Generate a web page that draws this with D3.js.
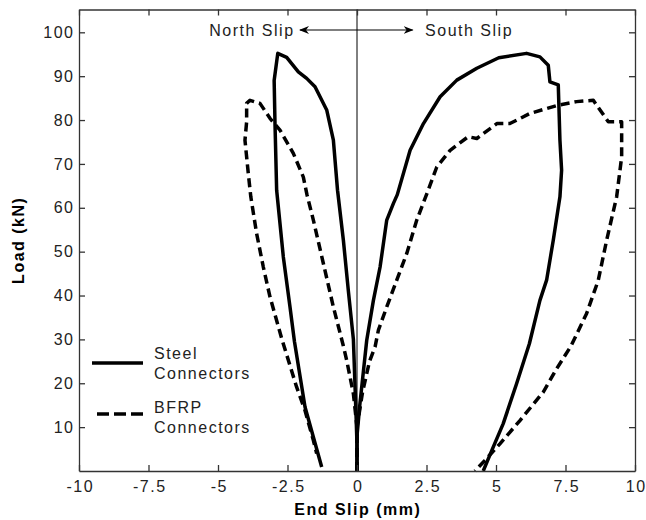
<!DOCTYPE html>
<html>
<head>
<meta charset="utf-8">
<script src="https://cdn.jsdelivr.net/npm/d3@7"></script>
<style>
  html, body { margin: 0; padding: 0; background: #fff; }
  svg { display: block; font-family: "Liberation Sans", Arial, sans-serif; }
</style>
</head>
<body>
<svg id="chart" width="646" height="520"></svg>
<script>
// ---- Data (End slip in mm, Load in kN) ----
const xTicks = [-10, -7.5, -5, -2.5, 0, 2.5, 5, 7.5, 10];
const xTickLabels = ["-10", "-7.5", "-5", "-2.5", "0", "2.5", "5", "7.5", "10"];
const yTicks = [10, 20, 30, 40, 50, 60, 70, 80, 90, 100];
const yTickLabels = ["10", "20", "30", "40", "50", "60", "70", "80", "90", "100"];

const steelNorth = [[0,0],[0,6],[-0.03,12],[-0.13,30],[-0.31,41],[-0.49,52.6],[-0.7,64],[-0.85,75.4],[-1.09,82.3],[-1.51,87.6],[-1.81,89.5],[-2.11,91],[-2.53,94.3],[-2.85,95.2],[-2.98,89],[-2.95,79.2],[-2.89,64],[-2.65,48.8],[-2.41,37.4],[-2.25,29.5],[-1.87,14.6],[-1.27,0.9]];
const steelSouth = [[0,0],[0,8],[0.1,15],[0.35,29.8],[0.59,38.9],[0.83,46.5],[1.07,57.2],[1.31,61],[1.45,63],[1.91,73.1],[2.39,79.2],[2.99,85.3],[3.59,89.1],[4.31,91.8],[5.1,94.2],[6.1,95.2],[6.58,94.4],[6.88,92.5],[6.94,88.7],[7.24,88],[7.3,75.4],[7.36,68.6],[7.3,62.5],[7.06,52.6],[6.82,43.5],[6.58,38.9],[6.2,29],[5.74,19.9],[5.26,10.8],[4.85,4.7],[4.54,0]];
const bfrpNorth = [[0,0],[0,10],[-0.13,17.6],[-0.37,25.2],[-0.49,28.5],[-0.85,37.4],[-1.21,47.3],[-1.57,57.2],[-1.8,63],[-1.93,67],[-2.29,72.4],[-2.77,77.7],[-3.13,80.4],[-3.49,83.8],[-3.85,84.5],[-3.97,83.8],[-3.97,79.6],[-4.03,75.4],[-3.91,67.8],[-3.82,62.5],[-3.61,54.1],[-3.37,46.5],[-3.13,39.7],[-2.7,30],[-2.17,19.1],[-1.87,13.8],[-1.57,7],[-1.45,4]];
const bfrpSouth = [[0,0],[0,10],[0.2,18],[0.45,25],[0.65,28.3],[0.77,32.1],[1.07,37.4],[1.43,43.5],[1.79,49.6],[2.15,57.2],[2.5,63],[2.87,69.3],[3.35,73.1],[4.0,76.2],[4.31,75.8],[5.03,79.2],[5.5,79.2],[6.22,81.5],[7.24,83.4],[7.9,84.2],[8.5,84.5],[9.04,79.6],[9.52,79.6],[9.52,71.6],[9.34,62.5],[8.98,52.6],[8.68,43.5],[8.26,35.9],[7.7,28.5],[7.18,23.3],[6.7,18],[5.86,11.5],[5.14,6.2],[4.6,2.4],[4.24,0]];

const legendLabels = [["Steel", "Connectors"], ["BFRP", "Connectors"]];

// ---- Layout ----
const svg = d3.select("#chart");
const L = 79, R = 635, T = 9.5, B = 471;
const x = d3.scaleLinear().domain([-10, 10]).range([L, R]);
const y = d3.scaleLinear().domain([0, 105.2]).range([B, T]);
const axisColor = "#333";
const textColor = "#222";
const FS = 16, LS = "1.5px";

// Zero line
svg.append("line")
  .attr("x1", x(0)).attr("x2", x(0)).attr("y1", T).attr("y2", B)
  .attr("stroke", "#000").attr("stroke-width", 1);

// Curves
const line = d3.line().x(d => x(d[0])).y(d => y(d[1]));
const g = svg.append("g");
[[steelNorth, null], [steelSouth, null], [bfrpNorth, "9,5"], [bfrpSouth, "9,5"]].forEach(([data, dash]) => {
  g.append("path").attr("d", line(data))
    .attr("fill", "none").attr("stroke", "#000")
    .attr("stroke-width", 3.5)
    .attr("stroke-linejoin", "round")
    .attr("stroke-dasharray", dash);
});

// Axes (ticks inward)
function styleAxis(sel) {
  sel.select(".domain").attr("stroke", axisColor).attr("stroke-width", 1.3);
  sel.selectAll(".tick line").attr("stroke", axisColor).attr("stroke-width", 1.3);
  sel.selectAll("text").attr("fill", textColor).style("font-size", FS + "px")
    .style("letter-spacing", LS)
    .style("font-family", "'Liberation Sans', Arial, sans-serif");
}
const xb = svg.append("g").attr("transform", `translate(0,${B})`)
  .call(d3.axisBottom(x).tickValues(xTicks).tickSizeInner(-6).tickSizeOuter(0).tickPadding(10)
    .tickFormat((d, i) => xTickLabels[i]));
styleAxis(xb);
xb.selectAll(".tick text").attr("dx", "0.75px");
const xt = svg.append("g").attr("transform", `translate(0,${T})`)
  .call(d3.axisTop(x).tickValues(xTicks).tickSizeInner(-6).tickSizeOuter(0).tickFormat(""));
styleAxis(xt);
const yl = svg.append("g").attr("transform", `translate(${L},0)`)
  .call(d3.axisLeft(y).tickValues(yTicks).tickSizeInner(-6).tickSizeOuter(0).tickPadding(4.5)
    .tickFormat((d, i) => yTickLabels[i]));
styleAxis(yl);
const yr = svg.append("g").attr("transform", `translate(${R},0)`)
  .call(d3.axisRight(y).tickValues(yTicks).tickSizeInner(-6).tickSizeOuter(0).tickFormat(""));
styleAxis(yr);

// Axis titles
svg.append("text").attr("x", x(0) + 0.75).attr("y", 515)
  .attr("text-anchor", "middle").attr("font-weight", "bold").attr("font-size", FS)
  .style("letter-spacing", LS)
  .attr("fill", "#000").text("End Slip (mm)");
svg.append("text").attr("transform", `translate(24,${(T + B) / 2}) rotate(-90)`)
  .attr("text-anchor", "middle").attr("font-weight", "bold").attr("font-size", FS)
  .style("letter-spacing", LS)
  .attr("fill", "#000").text("Load (kN)");

// Annotation arrow
const defs = svg.append("defs");
defs.append("marker").attr("id", "ah").attr("viewBox", "0 0 10 10")
  .attr("refX", 9).attr("refY", 5).attr("markerWidth", 10).attr("markerHeight", 10)
  .attr("markerUnits", "userSpaceOnUse").attr("orient", "auto-start-reverse")
  .append("path").attr("d", "M0,1 L10,5 L0,9 L3,5 Z").attr("fill", "#000");
svg.append("line").attr("x1", x(-2.05)).attr("x2", x(2.0)).attr("y1", 30).attr("y2", 30)
  .attr("stroke", "#000").attr("stroke-width", 1.2)
  .attr("marker-start", "url(#ah)").attr("marker-end", "url(#ah)");
svg.append("text").attr("x", x(-2.3) + 1.5).attr("y", 36).attr("text-anchor", "end")
  .attr("font-size", FS).style("letter-spacing", LS).attr("fill", textColor).text("North Slip");
svg.append("text").attr("x", x(2.45)).attr("y", 36).attr("text-anchor", "start")
  .attr("font-size", FS).style("letter-spacing", LS).attr("fill", textColor).text("South Slip");

// Legend
const lg = svg.append("g");
lg.append("line").attr("x1", 92).attr("x2", 143).attr("y1", 363).attr("y2", 363)
  .attr("stroke", "#000").attr("stroke-width", 3.5);
lg.append("line").attr("x1", 97).attr("x2", 143).attr("y1", 414).attr("y2", 414)
  .attr("stroke", "#000").attr("stroke-width", 3.5).attr("stroke-dasharray", "12,5");
[[359, 379], [413, 433]].forEach((ys, i) => {
  ys.forEach((yy, j) => {
    lg.append("text").attr("x", 154).attr("y", yy).attr("font-size", FS)
      .style("letter-spacing", LS)
      .attr("fill", textColor).text(legendLabels[i][j]);
  });
});
</script>
</body>
</html>
